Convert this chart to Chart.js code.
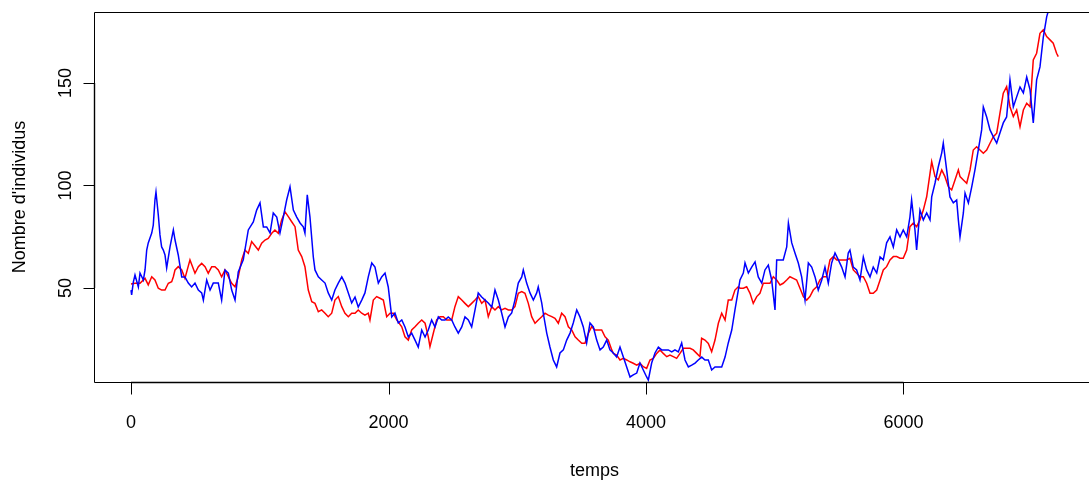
<!DOCTYPE html>
<html>
<head>
<meta charset="utf-8">
<script src="https://cdn.jsdelivr.net/npm/chart.js@4/dist/chart.umd.min.js"></script>
<style>
html,body{margin:0;padding:0;background:#fff;overflow:hidden;width:1089px;height:484px;}
canvas{display:block;}
</style>
</head>
<body>
<canvas id="c" width="1100" height="484"></canvas>
<script>
// Axis ticks and labels
const xTicks = [0, 2000, 4000, 6000];
const yTicks = [50, 100, 150];
const xTitle = "temps";
const yTitle = "Nombre d'individus";

// Red series: [temps, individus]
const redSeries = [
[0,52.0],[31,52.3],[70,52.3],[109,54.7],[134,51.5],[161,55.5],[186,53.9],[212,49.9],[238,49.0],[264,49.0],
[290,52.3],[316,53.1],[329,55.5],[342,58.8],[367,60.4],[394,58.8],[419,54.7],[458,63.7],[497,57.2],[523,60.4],
[549,62.0],[575,60.4],[600,57.2],[627,60.4],[652,60.4],[678,58.8],[704,55.5],[730,58.8],[756,55.5],[782,52.3],
[808,50.6],[833,55.5],[860,63.7],[885,68.5],[911,66.9],[937,72.6],[989,68.5],[1015,71.8],[1041,73.4],[1066,74.2],
[1093,76.7],[1118,78.3],[1144,76.7],[1170,83.2],[1196,87.2],[1222,84.8],[1248,82.3],[1274,79.9],[1299,68.5],[1326,65.3],
[1351,60.4],[1377,49.0],[1404,43.3],[1429,42.5],[1455,38.4],[1481,39.3],[1507,37.7],[1532,36.0],[1559,37.7],[1584,44.1],
[1610,45.8],[1637,40.9],[1662,37.7],[1688,36.0],[1714,37.7],[1740,37.7],[1765,39.3],[1792,37.7],[1817,36.8],[1843,37.7],
[1856,34.4],[1882,44.1],[1908,45.8],[1934,45.0],[1960,44.1],[1986,36.0],[2012,37.7],[2037,37.7],[2064,34.4],[2103,31.1],
[2128,26.2],[2154,24.6],[2180,29.5],[2206,31.1],[2231,32.8],[2258,34.4],[2284,32.8],[2309,26.2],[2322,21.4],[2348,27.9],
[2374,34.4],[2400,36.0],[2426,36.0],[2452,34.4],[2491,34.4],[2516,40.9],[2542,45.8],[2569,44.1],[2594,42.5],[2620,40.9],
[2646,42.5],[2672,44.1],[2697,45.8],[2724,42.5],[2750,44.1],[2775,36.0],[2802,40.9],[2827,39.3],[2853,40.9],[2879,39.3],
[2905,40.1],[2931,39.3],[2957,39.3],[2982,40.9],[3008,47.4],[3035,48.2],[3060,47.4],[3086,42.5],[3112,36.0],[3138,32.8],
[3163,34.4],[3190,36.0],[3216,37.7],[3241,36.8],[3268,36.0],[3293,35.2],[3319,32.8],[3345,37.7],[3371,36.0],[3397,31.1],
[3423,29.5],[3449,26.2],[3474,24.6],[3501,23.0],[3526,23.0],[3552,27.9],[3578,31.1],[3604,29.5],[3629,29.5],[3656,29.5],
[3682,26.2],[3707,24.6],[3734,19.8],[3746,18.1],[3772,17.3],[3798,14.9],[3824,15.7],[3850,14.9],[3876,14.0],[3901,13.3],
[3928,12.4],[3953,13.3],[3979,11.6],[4005,10.8],[4031,14.9],[4057,15.7],[4083,18.1],[4109,19.8],[4134,18.1],[4161,16.5],
[4186,17.3],[4212,16.5],[4238,15.7],[4264,18.1],[4290,20.6],[4316,20.6],[4342,20.6],[4367,19.8],[4394,18.1],[4419,16.5],
[4432,25.5],[4458,24.6],[4484,23.0],[4510,18.9],[4536,24.6],[4562,32.8],[4588,37.7],[4614,34.4],[4639,44.1],[4666,44.1],
[4691,49.0],[4717,50.6],[4730,49.9],[4756,49.9],[4782,50.6],[4808,47.4],[4833,42.5],[4860,45.8],[4885,47.4],[4911,52.3],
[4937,52.3],[4963,52.3],[4989,55.5],[5015,53.9],[5041,51.5],[5066,52.3],[5093,53.9],[5118,55.5],[5144,54.7],[5170,53.9],
[5196,49.9],[5222,45.8],[5248,44.1],[5273,45.8],[5299,49.0],[5326,50.6],[5351,53.9],[5377,55.5],[5403,55.5],[5429,63.7],
[5455,65.3],[5481,63.7],[5506,63.7],[5532,63.7],[5558,63.7],[5584,64.5],[5610,58.8],[5636,57.2],[5662,55.5],[5688,55.5],
[5714,52.3],[5740,47.4],[5765,47.4],[5792,49.0],[5818,53.9],[5843,58.8],[5869,60.4],[5895,63.7],[5921,65.3],[5947,65.3],
[5973,64.5],[5998,64.5],[6025,68.5],[6050,79.9],[6076,81.6],[6102,79.9],[6128,83.2],[6154,88.0],[6180,94.5],[6206,105.9],
[6219,111.6],[6245,104.3],[6270,102.7],[6297,107.6],[6322,104.3],[6348,99.4],[6374,97.8],[6400,102.7],[6426,107.6],[6439,104.3],
[6465,102.7],[6491,101.1],[6517,107.6],[6542,117.3],[6568,118.9],[6594,117.3],[6620,115.7],[6646,117.3],[6672,120.6],[6698,123.8],
[6724,125.5],[6749,135.2],[6775,145.0],[6801,148.2],[6827,138.4],[6853,133.6],[6879,136.8],[6905,128.7],[6931,136.8],[6957,140.1],
[6983,138.4],[7008,161.2],[7034,164.5],[7060,174.2],[7086,175.9],[7112,172.6],[7138,171.0],[7163,169.4],[7189,164.5],[7202,162.8]
];

// Blue series: [temps, individus]
const blueSeries = [
[0,49.0],[5,46.6],[18,52.9],[31,56.3],[57,50.5],[70,57.3],[96,53.9],[109,58.8],[122,68.5],[134,72.0],
[161,76.8],[173,80.7],[186,92.9],[194,96.8],[212,85.6],[225,75.9],[238,70.0],[251,68.5],[264,66.1],[277,59.8],
[303,70.0],[329,78.3],[342,73.4],[367,66.1],[394,55.4],[419,55.4],[445,52.4],[471,50.5],[497,52.4],[523,49.0],
[549,47.6],[562,44.1],[588,53.9],[614,49.0],[639,52.4],[678,52.4],[704,44.1],[730,58.8],[756,57.3],[782,49.0],
[808,44.1],[833,57.8],[872,63.7],[911,78.3],[950,82.2],[976,88.0],[1002,91.5],[1028,79.8],[1054,79.8],[1080,76.8],
[1105,86.6],[1132,84.6],[1157,76.8],[1183,84.6],[1209,92.9],[1235,99.3],[1261,88.0],[1287,84.6],[1313,81.7],[1338,79.8],
[1351,76.8],[1369,95.4],[1390,84.6],[1416,65.1],[1429,58.8],[1455,55.4],[1481,53.9],[1507,52.4],[1532,47.6],[1559,44.1],
[1584,49.0],[1610,52.4],[1637,55.4],[1662,52.4],[1688,47.6],[1714,42.7],[1740,45.6],[1765,40.7],[1792,44.1],[1817,47.6],
[1843,55.4],[1870,62.2],[1895,60.2],[1921,52.4],[1947,55.4],[1973,57.3],[1998,50.5],[2025,35.9],[2050,37.8],[2076,32.9],
[2103,34.4],[2128,31.0],[2154,26.1],[2180,28.0],[2206,24.6],[2231,21.2],[2258,29.5],[2284,26.1],[2309,29.5],[2335,34.4],
[2361,31.0],[2387,35.9],[2413,34.4],[2439,34.4],[2464,35.9],[2491,34.4],[2516,31.0],[2542,28.0],[2569,31.0],[2594,35.9],
[2620,34.4],[2646,31.0],[2672,39.3],[2697,47.6],[2724,45.6],[2750,44.1],[2775,42.7],[2802,40.7],[2827,49.0],[2853,44.1],
[2879,37.8],[2905,31.0],[2931,35.9],[2957,37.8],[2982,44.1],[3008,52.4],[3035,55.4],[3047,58.8],[3073,52.4],[3099,47.6],
[3125,44.1],[3151,47.6],[3163,50.5],[3190,42.7],[3202,37.8],[3229,28.0],[3254,21.2],[3280,14.9],[3306,11.5],[3332,18.3],
[3358,19.8],[3384,24.6],[3410,28.0],[3435,32.9],[3462,39.3],[3487,35.9],[3513,31.0],[3539,23.2],[3565,32.9],[3591,31.0],
[3617,24.6],[3643,19.8],[3668,21.2],[3695,24.6],[3720,19.8],[3746,18.3],[3772,16.3],[3798,21.2],[3824,16.3],[3850,11.5],
[3876,6.6],[3901,7.6],[3928,8.5],[3953,13.4],[3979,10.0],[4005,6.6],[4018,5.1],[4044,13.4],[4070,18.3],[4096,21.2],
[4122,19.8],[4148,19.8],[4173,19.8],[4200,18.8],[4225,19.8],[4251,18.8],[4277,23.2],[4303,14.9],[4329,11.5],[4355,12.4],
[4381,13.4],[4406,14.9],[4433,16.3],[4458,14.9],[4484,14.9],[4510,10.0],[4536,11.5],[4562,11.5],[4588,11.5],[4614,16.3],
[4639,23.2],[4666,29.5],[4691,39.3],[4717,49.0],[4730,53.9],[4756,57.3],[4769,62.2],[4795,57.3],[4821,60.2],[4847,62.7],
[4872,55.4],[4899,52.4],[4924,58.8],[4950,61.2],[4976,53.9],[5002,39.3],[5015,63.7],[5041,63.7],[5066,63.7],[5093,70.0],
[5106,81.7],[5132,72.0],[5157,67.1],[5183,62.2],[5209,55.4],[5235,44.1],[5261,62.2],[5287,60.2],[5313,55.4],[5338,49.0],
[5365,53.9],[5390,60.2],[5416,52.4],[5442,62.2],[5468,67.1],[5494,63.7],[5520,60.2],[5546,55.4],[5571,67.1],[5584,68.5],
[5610,60.2],[5636,58.8],[5662,53.9],[5688,65.1],[5714,58.8],[5740,55.4],[5765,60.2],[5792,57.3],[5818,65.1],[5843,63.7],
[5869,72.0],[5895,74.9],[5921,70.0],[5947,78.3],[5973,74.9],[5998,78.3],[6025,74.9],[6050,84.6],[6063,92.9],[6089,78.3],
[6102,68.5],[6128,88.0],[6154,83.2],[6180,86.6],[6206,83.2],[6219,94.4],[6245,101.2],[6270,109.0],[6297,115.9],[6309,120.7],
[6335,107.6],[6361,94.4],[6387,91.5],[6413,92.9],[6426,83.2],[6439,74.9],[6465,86.6],[6478,96.3],[6504,91.5],[6530,99.3],
[6555,107.6],[6581,117.3],[6607,127.1],[6620,138.3],[6646,133.4],[6672,127.1],[6698,123.7],[6724,120.7],[6749,125.6],[6775,130.5],
[6801,133.4],[6827,151.5],[6853,138.3],[6879,143.2],[6905,148.0],[6931,145.1],[6957,152.9],[6983,146.6],[7008,130.5],[7034,151.5],
[7060,157.8],[7086,172.4],[7112,182.2],[7138,188.0],[7153,190.5]
];

const FONT = '"Liberation Sans", Arial, Helvetica, sans-serif';

const rAxes = {
  id: 'rAxes',
  afterDraw(chart) {
    const ctx = chart.ctx;
    const a = chart.chartArea;
    const xs = chart.scales.x, ys = chart.scales.y;
    ctx.save();
    ctx.strokeStyle = '#000';
    ctx.lineWidth = 1;
    // box (left, top, bottom; right side lies beyond the view)
    ctx.beginPath();
    ctx.moveTo(a.right + 0.5, Math.round(a.top) + 0.5);
    ctx.lineTo(Math.round(a.left) + 0.5, Math.round(a.top) + 0.5);
    ctx.lineTo(Math.round(a.left) + 0.5, Math.round(a.bottom) + 0.5);
    ctx.lineTo(a.right + 0.5, Math.round(a.bottom) + 0.5);
    ctx.stroke();
    // x axis line + ticks
    const yb = Math.round(a.bottom) + 0.5;
    ctx.lineWidth = 1.4;
    ctx.beginPath();
    ctx.moveTo(xs.getPixelForValue(xTicks[0]), yb);
    ctx.lineTo(xs.getPixelForValue(xTicks[xTicks.length - 1]), yb);
    ctx.stroke();
    ctx.lineWidth = 1;
    ctx.beginPath();
    xTicks.forEach(t => {
      const px = Math.round(xs.getPixelForValue(t)) + 0.5;
      ctx.moveTo(px, yb);
      ctx.lineTo(px, yb + 12);
    });
    ctx.stroke();
    // y axis line + ticks
    const xl = Math.round(a.left) + 0.5;
    ctx.lineWidth = 1.4;
    ctx.beginPath();
    ctx.moveTo(xl, ys.getPixelForValue(yTicks[0]));
    ctx.lineTo(xl, ys.getPixelForValue(yTicks[yTicks.length - 1]));
    ctx.stroke();
    ctx.lineWidth = 1;
    ctx.beginPath();
    yTicks.forEach(v => {
      const py = Math.round(ys.getPixelForValue(v)) + 0.5;
      ctx.moveTo(xl, py);
      ctx.lineTo(xl - 11, py);
    });
    ctx.stroke();
    // labels
    ctx.fillStyle = '#000';
    ctx.font = '18px ' + FONT;
    ctx.textAlign = 'center';
    ctx.textBaseline = 'alphabetic';
    xTicks.forEach(t => {
      ctx.fillText(String(t), xs.getPixelForValue(t), 428);
    });
    ctx.fillText(xTitle, (a.left + a.right) / 2, 476);
    yTicks.forEach(v => {
      ctx.save();
      ctx.translate(71, ys.getPixelForValue(v));
      ctx.rotate(-Math.PI / 2);
      ctx.fillText(String(v), 0, 0);
      ctx.restore();
    });
    ctx.save();
    ctx.translate(25, (a.top + a.bottom) / 2);
    ctx.rotate(-Math.PI / 2);
    ctx.fillText(yTitle, 0, 0);
    ctx.restore();
    ctx.restore();
  }
};

const toXY = s => s.map(p => ({x: p[0], y: p[1]}));

new Chart(document.getElementById('c'), {
  type: 'scatter',
  data: {
    datasets: [
      {label: 'bleu', data: toXY(blueSeries), showLine: true, borderColor: '#0000FF', backgroundColor: '#0000FF',
       borderWidth: 1.5, pointRadius: 0, tension: 0, clip: 0, order: 0},
      {label: 'rouge', data: toXY(redSeries), showLine: true, borderColor: '#FF0000', backgroundColor: '#FF0000',
       borderWidth: 1.5, pointRadius: 0, tension: 0, clip: 0, order: 1}
    ]
  },
  options: {
    responsive: false,
    animation: false,
    devicePixelRatio: 1,
    layout: {padding: {left: 94, top: 12, right: 5, bottom: 102}},
    scales: {
      x: {type: 'linear', display: false, min: -287.4, max: 7487.4},
      y: {type: 'linear', display: false, min: 4.15, max: 184.6}
    },
    plugins: {legend: {display: false}, tooltip: {enabled: false}},
    elements: {point: {radius: 0}}
  },
  plugins: [rAxes]
});
</script>
</body>
</html>
